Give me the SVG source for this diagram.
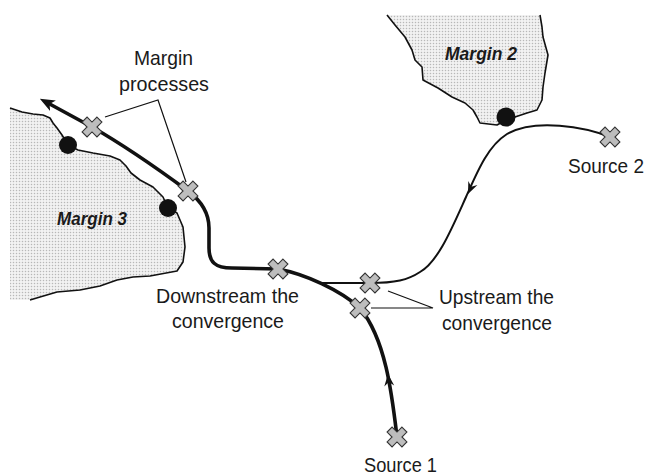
<svg xmlns="http://www.w3.org/2000/svg" width="651" height="476" viewBox="0 0 651 476">
<style>
.lbl{font-family:"Liberation Sans",Arial,sans-serif;font-size:21px;fill:#1a1a1a}
.mlbl{font-family:"Liberation Sans",Arial,sans-serif;font-size:18px;font-weight:bold;font-style:italic;fill:#1a1a1a}
.shore{fill:none;stroke:#111;stroke-width:1.6;stroke-linejoin:round}
.land{fill:url(#stip);stroke:none}
.dot{fill:#111}
.thick{fill:none;stroke:#111;stroke-width:3.6;stroke-linecap:butt;stroke-linejoin:round}
.thin{fill:none;stroke:#111;stroke-width:2;stroke-linejoin:round}
.lead{fill:none;stroke:#111;stroke-width:1.2}
.xm{fill:#bdbdbd;stroke:#333;stroke-width:1.1}
.ah{fill:#111}
</style>
<defs>
<pattern id="stip" width="3" height="3" patternUnits="userSpaceOnUse">
<rect width="3" height="3" fill="#f2f2f2"/>
<circle cx="1.5" cy="1.5" r="0.75" fill="#b8b8b8"/>
</pattern>
<path id="cross" d="M-3.5,-10.5 L3.5,-10.5 L3.5,-3.5 L10.5,-3.5 L10.5,3.5 L3.5,3.5 L3.5,10.5 L-3.5,10.5 L-3.5,3.5 L-10.5,3.5 L-10.5,-3.5 L-3.5,-3.5 Z" transform="rotate(45)"/>
<marker id="endArrow" viewBox="0 0 15 12" refX="8" refY="6" markerWidth="15" markerHeight="12" markerUnits="userSpaceOnUse" orient="auto">
<path d="M0,0 L15,6 L0,12 L4,6 Z" fill="#111"/>
</marker>
</defs>

<g id="margin3">
<path class="land" d="M10,108 L22,112 L33,114 L43,115 L50,118 L53,123 L57,128 L62,135 L68,145 L78,150 L93,153 L110,156 L120,160 L126,166 L131,173 L140,180 L153,187 L163,197 L168,208 L177,213 L183,227 L185,247 L183,262 L177,271 L150,276 L133,277 L117,280 L100,286 L80,290 L57,292 L40,297 L30,300 L10,300 Z"/>
<path class="shore" d="M10,108 L22,112 L33,114 L43,115 L50,118 L53,123 L57,128 L62,135 L68,145 L78,150 L93,153 L110,156 L120,160 L126,166 L131,173 L140,180 L153,187 L163,197 L168,208 L177,213 L183,227 L185,247 L183,262 L177,271 L150,276 L133,277 L117,280 L100,286 L80,290 L57,292 L40,297 L30,300"/>
<circle class="dot" cx="68" cy="145" r="9"/>
<circle class="dot" cx="168" cy="208" r="9"/>
<text class="mlbl" x="57" y="225" textLength="70" lengthAdjust="spacingAndGlyphs">Margin 3</text>
</g>

<g id="margin2">
<path class="land" d="M387,15 L395,25 L405,37 L412,50 L415,60 L422,67 L423,80 L438,88 L452,97 L465,103 L473,110 L477,117 L480,123 L497,125 L506,120 L515,117 L527,113 L537,110 L542,100 L543,87 L545,73 L548,55 L543,37 L542,27 L540,15 Z"/>
<path class="shore" d="M387,15 L395,25 L405,37 L412,50 L415,60 L422,67 L423,80 L438,88 L452,97 L465,103 L473,110 L477,117 L480,123 L497,125 L506,120 L515,117 L527,113 L537,110 L542,100 L543,87 L545,73 L548,55 L543,37 L542,27 L540,15"/>
<circle class="dot" cx="506" cy="117" r="9.5"/>
<text class="mlbl" x="445" y="60" textLength="72" lengthAdjust="spacingAndGlyphs">Margin 2</text>
</g>

<g id="connectors">
<path class="thick" d="M397,437 C392,395 386,340 360,308 C340,290 305,274 278,269 L232,268 C215,268 209,262 209,248 L209,228 C209,212 200,200 188,191 C150,163 120,143 92,127 L46,102" marker-end="url(#endArrow)"/>
<path class="thin" d="M610,137 C585,127 535,118 507,134 C488,146 478,170 466,197 C452,228 438,262 420,272 C408,280 395,283 370,283 L318,283"/>
<polygon class="ah" points="0,0 -12,-5 -8,0 -12,5" transform="translate(388,374) rotate(-96)"/>
<polygon class="ah" points="0,0 -12,-5 -8,0 -12,5" transform="translate(468,194) rotate(114)"/>
<path class="lead" d="M105,117 L158,100 L186,182"/>
<path class="lead" d="M388,291 L433,308 L371,308"/>
</g>

<g id="x-margin-a"><use href="#cross" class="xm" x="92" y="127"/></g>
<g id="x-margin-b"><use href="#cross" class="xm" x="188" y="191"/></g>
<g id="x-downstream"><use href="#cross" class="xm" x="278" y="269"/></g>
<g id="x-upstream-2"><use href="#cross" class="xm" x="370" y="283"/></g>
<g id="x-upstream-1"><use href="#cross" class="xm" x="360" y="308"/></g>
<g id="x-source1"><use href="#cross" class="xm" x="397" y="437"/></g>
<g id="x-source2"><use href="#cross" class="xm" x="610" y="137"/></g>

<g id="label-margin-processes">
<text class="lbl" x="134" y="65" textLength="59" lengthAdjust="spacingAndGlyphs">Margin</text>
<text class="lbl" x="119" y="91" textLength="90" lengthAdjust="spacingAndGlyphs">processes</text>
</g>
<g id="label-downstream">
<text class="lbl" x="156" y="303" textLength="143" lengthAdjust="spacingAndGlyphs">Downstream the</text>
<text class="lbl" x="172" y="328" textLength="112" lengthAdjust="spacingAndGlyphs">convergence</text>
</g>
<g id="label-upstream">
<text class="lbl" x="439" y="304" textLength="115" lengthAdjust="spacingAndGlyphs">Upstream the</text>
<text class="lbl" x="442" y="330" textLength="110" lengthAdjust="spacingAndGlyphs">convergence</text>
</g>
<g id="label-source2"><text class="lbl" x="568" y="173" textLength="76" lengthAdjust="spacingAndGlyphs">Source 2</text></g>
<g id="label-source1"><text class="lbl" x="364" y="472" textLength="73" lengthAdjust="spacingAndGlyphs">Source 1</text></g>
</svg>
